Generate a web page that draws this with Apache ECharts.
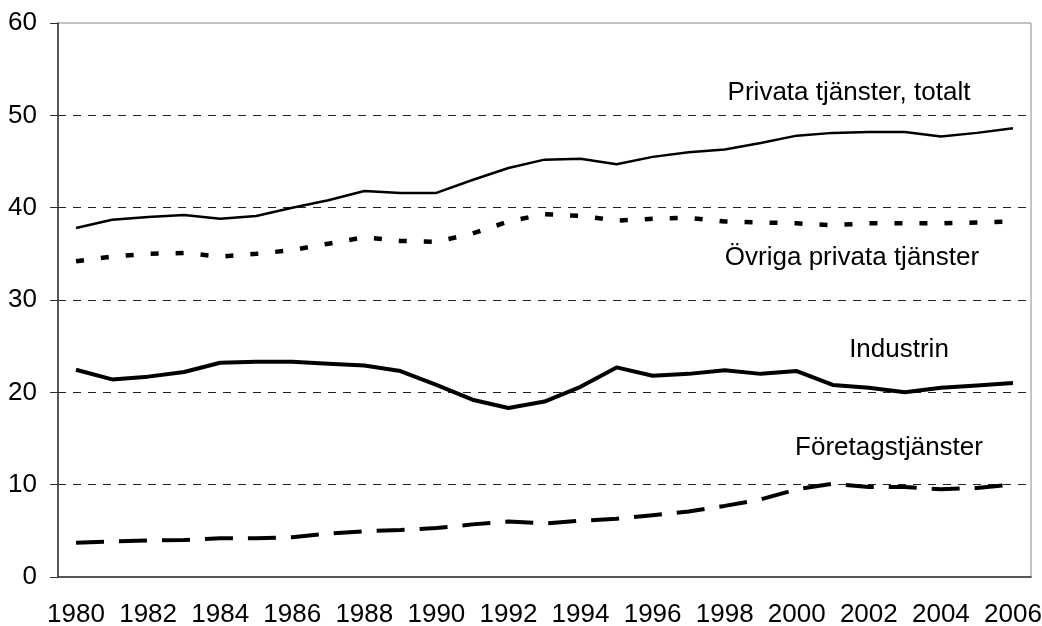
<!DOCTYPE html>
<html>
<head>
<meta charset="utf-8">
<script src="https://cdn.jsdelivr.net/npm/echarts@6/dist/echarts.min.js"></script>
<style>
html,body{margin:0;padding:0;background:#fff;}
#main{width:1042px;height:626px;}
</style>
</head>
<body>
<div id="main"></div>
<script>
// data
var years = ['1980','1981','1982','1983','1984','1985','1986','1987','1988','1989','1990','1991','1992','1993','1994','1995','1996','1997','1998','1999','2000','2001','2002','2003','2004','2005','2006'];
var data_totalt = [37.8, 38.7, 39.0, 39.2, 38.8, 39.1, 40.0, 40.8, 41.8, 41.6, 41.6, 43.0, 44.3, 45.2, 45.3, 44.7, 45.5, 46.0, 46.3, 47.0, 47.8, 48.1, 48.2, 48.2, 47.7, 48.1, 48.6];
var data_ovriga = [34.2, 34.7, 35.0, 35.1, 34.7, 35.0, 35.4, 36.1, 36.8, 36.4, 36.3, 37.2, 38.5, 39.3, 39.1, 38.6, 38.8, 38.9, 38.5, 38.4, 38.3, 38.1, 38.3, 38.3, 38.3, 38.4, 38.5];
var data_industrin = [22.45, 21.4, 21.7, 22.2, 23.2, 23.3, 23.3, 23.1, 22.9, 22.3, 20.8, 19.2, 18.3, 19.0, 20.6, 22.7, 21.8, 22.0, 22.4, 22.0, 22.3, 20.8, 20.5, 20.0, 20.5, 20.75, 21.0];
var data_foretag = [3.7, 3.85, 3.95, 4.0, 4.2, 4.2, 4.3, 4.7, 4.95, 5.1, 5.3, 5.7, 6.0, 5.8, 6.1, 6.3, 6.7, 7.1, 7.7, 8.4, 9.5, 10.1, 9.75, 9.75, 9.5, 9.65, 10.0];
var names = ['Privata tjänster, totalt', 'Övriga privata tjänster', 'Industrin', 'Företagstjänster'];

var font = 'Liberation Sans, Arial, sans-serif';

function label(text, x, y){
	return {
		type: 'text',
		x: x, y: y,
		style: {
			text: text,
			fill: '#000',
			font: '26px ' + font,
			textAlign: 'center',
			textVerticalAlign: 'middle'
		}
	};
}

var option = {
	animation: false,
	backgroundColor: '#fff',
	grid: {
		left: 58, right: 11, top: 23, bottom: 49,
		outerBoundsMode: 'none',
		containLabel: false,
		show: true,
		borderColor: '#888',
		borderWidth: 1
	},
	xAxis: {
		type: 'category',
		data: years,
		boundaryGap: true,
		axisLine: {lineStyle: {color: '#333', width: 1.5}},
		axisTick: {interval: 0, length: 8, lineStyle: {color: '#333'}},
		axisLabel: {interval: 1, margin: 25, color: '#000', fontSize: 26, fontFamily: font}
	},
	yAxis: {
		type: 'value',
		min: 0, max: 60, interval: 10,
		axisLine: {show: true, lineStyle: {color: '#333', width: 1.5}},
		axisTick: {show: true, length: 8, lineStyle: {color: '#333'}},
		axisLabel: {margin: 21, color: '#000', fontSize: 26, fontFamily: font},
		splitLine: {
			show: true, showMinLine: false, showMaxLine: false,
			lineStyle: {color: '#222', width: 1, type: [8, 7]}
		}
	},
	series: [
		{name: names[0], type: 'line', data: data_totalt, symbol: 'none',
			lineStyle: {color: '#000', width: 2.5}},
		{name: names[1], type: 'line', data: data_ovriga, symbol: 'none',
			lineStyle: {color: '#000', width: 4.5, type: [8, 17], cap: 'butt'}},
		{name: names[2], type: 'line', data: data_industrin, symbol: 'none',
			lineStyle: {color: '#000', width: 4}},
		{name: names[3], type: 'line', data: data_foretag, symbol: 'none',
			lineStyle: {color: '#000', width: 4, type: [28, 15], cap: 'butt'}}
	],
	graphic: [
		label(names[0], 849, 93),
		label(names[1], 852, 258),
		label(names[2], 899, 350),
		label(names[3], 889, 448)
	]
};

var myChart = echarts.init(document.getElementById('main'));
myChart.setOption(option);
</script>
</body>
</html>
